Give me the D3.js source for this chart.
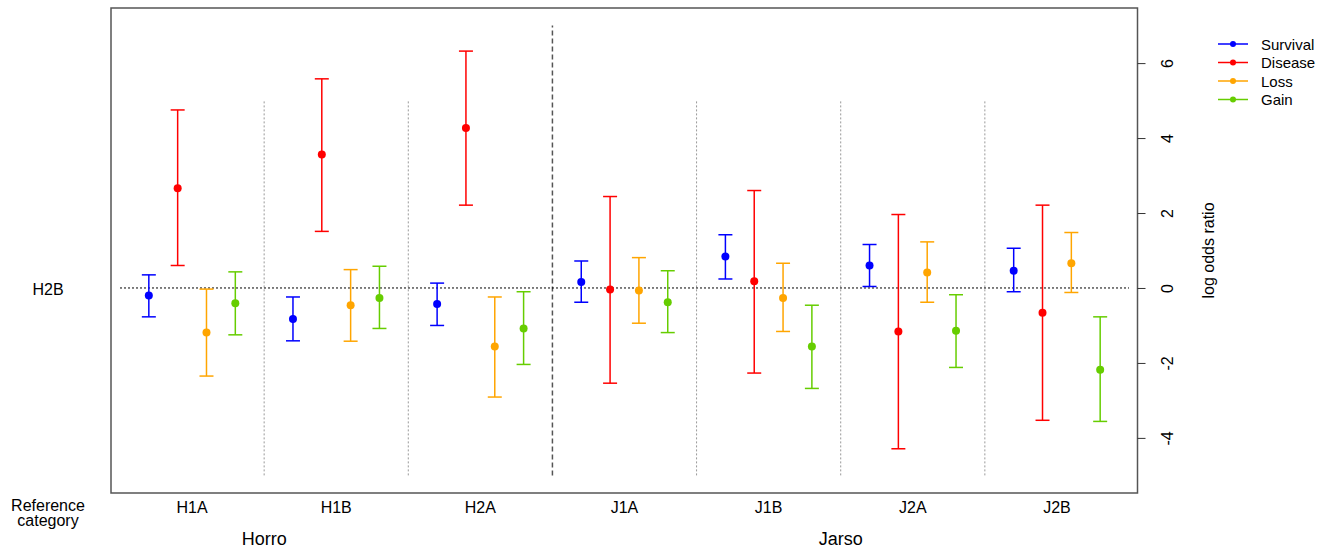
<!DOCTYPE html>
<html>
<head>
<meta charset="utf-8">
<script src="https://cdnjs.cloudflare.com/ajax/libs/d3/7.8.5/d3.min.js"></script>
<style>
  body { margin: 0; background: #fff; }
  text { font-family: "Liberation Sans", Arial, sans-serif; fill: #000; }
</style>
</head>
<body>
<script>
var categories = ["H1A", "H1B", "H2A", "J1A", "J1B", "J2A", "J2B"];
var breeds = ["Horro", "Jarso"];
var seriesNames = ["Survival", "Disease", "Loss", "Gain"];
var seriesColors = ["#0000ff", "#ff0000", "#ffa500", "#66cd00"];
var yTicks = [-4, -2, 0, 2, 4, 6];

// estimate, lower and upper limit of each series
var survivalEst = [-0.2, -0.83, -0.43, 0.16, 0.84, 0.6, 0.46];
var survivalLo = [-0.77, -1.41, -1.0, -0.38, 0.24, 0.04, -0.1];
var survivalHi = [0.35, -0.24, 0.13, 0.72, 1.42, 1.16, 1.06];

var diseaseEst = [2.66, 3.56, 4.27, -0.04, 0.18, -1.16, -0.66];
var diseaseLo = [0.6, 1.51, 2.21, -2.54, -2.27, -4.29, -3.53];
var diseaseHi = [4.75, 5.58, 6.32, 2.44, 2.6, 1.96, 2.21];

var lossEst = [-1.19, -0.46, -1.56, -0.07, -0.27, 0.41, 0.66];
var lossLo = [-2.35, -1.42, -2.91, -0.94, -1.16, -0.38, -0.12];
var lossHi = [-0.03, 0.49, -0.24, 0.81, 0.66, 1.23, 1.48];

var gainEst = [-0.41, -0.27, -1.08, -0.38, -1.56, -1.14, -2.18];
var gainLo = [-1.25, -1.08, -2.04, -1.19, -2.68, -2.12, -3.56];
var gainHi = [0.43, 0.58, -0.1, 0.46, -0.46, -0.18, -0.77];

var est = [survivalEst, diseaseEst, lossEst, gainEst];
var lo = [survivalLo, diseaseLo, lossLo, gainLo];
var hi = [survivalHi, diseaseHi, lossHi, gainHi];

var w = 1336, h = 549;
var box = {left: 111, right: 1137.5, top: 8, bottom: 493};

var svg = d3.select("body").append("svg").attr("width", w).attr("height", h);

var x = d3.scaleBand().domain(categories).range([120, 1129]).padding(0);
var y = d3.scaleLinear().domain([-5.47, 7.47]).range([box.bottom, box.top]);
var bw = x.bandwidth();
var step = bw / 5;

// separators between categories
var seps = categories.slice(1);
svg.selectAll("line.sep").data(seps).enter()
  .append("line")
  .attr("x1", function(d) { return x(d); })
  .attr("x2", function(d) { return x(d); })
  .attr("y1", y(-5))
  .attr("y2", function(d) { return d === "J1A" ? y(7) : y(5); })
  .attr("stroke", function(d) { return d === "J1A" ? "#555" : "#999"; })
  .attr("stroke-width", function(d) { return d === "J1A" ? 1.5 : 1; })
  .attr("stroke-dasharray", function(d) { return d === "J1A" ? "5,3" : "2,2"; });

// reference line at 0
svg.append("line")
  .attr("x1", x.range()[0]).attr("x2", x.range()[1])
  .attr("y1", y(0)).attr("y2", y(0))
  .attr("stroke", "#000").attr("stroke-width", 1)
  .attr("stroke-dasharray", "2,2");

// error bars
seriesNames.forEach(function(s, i) {
  var g = svg.append("g").attr("stroke", seriesColors[i]).attr("fill", seriesColors[i]);
  categories.forEach(function(c, j) {
    var cx = x(c) + bw / 2 + (i - 1.5) * step;
    g.append("line").attr("x1", cx).attr("x2", cx)
      .attr("y1", y(lo[i][j])).attr("y2", y(hi[i][j])).attr("stroke-width", 1.5);
    g.append("line").attr("x1", cx - 7).attr("x2", cx + 7)
      .attr("y1", y(lo[i][j])).attr("y2", y(lo[i][j])).attr("stroke-width", 1.5);
    g.append("line").attr("x1", cx - 7).attr("x2", cx + 7)
      .attr("y1", y(hi[i][j])).attr("y2", y(hi[i][j])).attr("stroke-width", 1.5);
    g.append("circle").attr("cx", cx).attr("cy", y(est[i][j])).attr("r", 4).attr("stroke", "none");
  });
});

// plot box
svg.append("rect")
  .attr("x", box.left).attr("y", box.top)
  .attr("width", box.right - box.left).attr("height", box.bottom - box.top)
  .attr("fill", "none").attr("stroke", "#555").attr("stroke-width", 1.5);

// right axis
var axis = svg.append("g")
  .attr("transform", "translate(" + box.right + ",0)")
  .call(d3.axisRight(y).tickValues(yTicks).tickSize(8).tickFormat(function(d) { return String(d); }));
axis.select(".domain").remove();
axis.selectAll(".tick line").attr("stroke", "#333");
axis.selectAll(".tick text")
  .attr("x", 0).attr("dy", 0)
  .attr("transform", "translate(35,0) rotate(-90)")
  .attr("text-anchor", "middle")
  .style("font-size", "16px")
  .style("font-family", "Liberation Sans, Arial, sans-serif");

svg.append("text")
  .attr("transform", "translate(1214," + ((box.top + box.bottom) / 2) + ") rotate(-90)")
  .attr("text-anchor", "middle")
  .style("font-size", "16px")
  .text("log odds ratio");

// category labels
svg.selectAll("text.cat").data(categories).enter()
  .append("text")
  .attr("x", function(d) { return x(d) + bw / 2; })
  .attr("y", 513)
  .attr("text-anchor", "middle")
  .style("font-size", "16px")
  .text(function(d) { return d; });

// breed labels
svg.selectAll("text.breed").data(breeds).enter()
  .append("text")
  .attr("x", function(d, i) {
    return i === 0 ? x("H1B") + bw / 2 - 72 : x("J1B") + bw / 2 + 72;
  })
  .attr("y", 545)
  .attr("text-anchor", "middle")
  .style("font-size", "18px")
  .text(function(d) { return d; });

svg.append("text").attr("x", 48).attr("y", 295).attr("text-anchor", "middle")
  .style("font-size", "16px").text("H2B");

svg.append("text").attr("x", 48).attr("y", 511).attr("text-anchor", "middle")
  .style("font-size", "16px").text("Reference");
svg.append("text").attr("x", 48).attr("y", 526).attr("text-anchor", "middle")
  .style("font-size", "16px").text("category");

// legend
var leg = svg.append("g").attr("transform", "translate(1218,44)");
seriesNames.forEach(function(s, i) {
  var gy = i * 18.5;
  leg.append("line").attr("x1", 0).attr("x2", 30).attr("y1", gy).attr("y2", gy)
    .attr("stroke", seriesColors[i]).attr("stroke-width", 1.5);
  leg.append("circle").attr("cx", 15).attr("cy", gy).attr("r", 3).attr("fill", seriesColors[i]);
  leg.append("text").attr("x", 43).attr("y", gy + 5.5)
    .style("font-size", "15px").text(s);
});
</script>
</body>
</html>
